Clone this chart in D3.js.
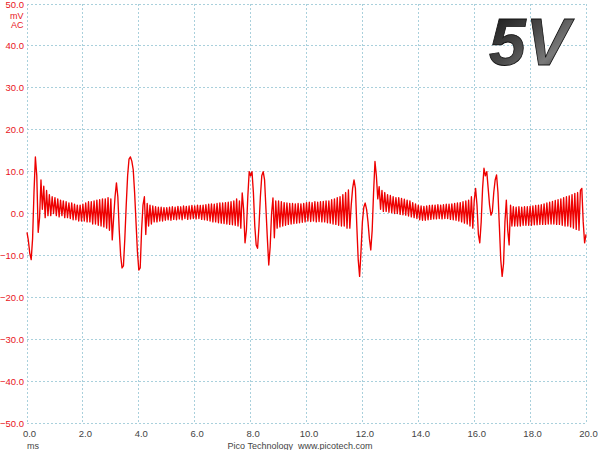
<!DOCTYPE html>
<html><head><meta charset="utf-8">
<script src="https://cdn.jsdelivr.net/npm/d3@7"></script>
<style>body{margin:0;background:#fff}svg{display:block}</style>
</head><body>
<svg id="c" width="600" height="450"></svg>
<script>
// ---- data ----
const sampleStepMs = 0.05;
const traceMv = [
// 0 ms
-4.5,-6.5,-9.5,-11,-6,5,13.5,9,-4.5,-1,8,1,6.5,-1,5.5,-0.5,4.5,-0.5,4,0,
// 1 ms
3.8,-0.5,3.5,-0.8,3.2,-0.5,3,-1,2.8,-1,2.5,-1.2,2.5,-1.5,2.2,-1.5,2,-1.8,2,-1.8,
// 2 ms
2.2,-1.8,2.5,-2,2.8,-2,2.8,-2.5,3,-2.5,3.2,-2.8,3.3,-3,3.5,-3.2,3.5,-3.5,3.8,-4,
// 3 ms
3.5,-6.3,-1,4,7.3,4,-4,-10,-13,-12.5,-6,2,9,13,13.5,12.5,10.5,5,-2,-9,
// 4 ms
-13.5,-13,-4,2,4,-5,2.4,-3,2,-2.5,1.8,-2,1.6,-2,1.5,-1.8,1.5,-1.8,1.4,-1.6,
// 5 ms
1.4,-1.5,1.5,-1.6,1.6,-1.4,1.5,-1.5,1.7,-1.3,1.6,-1.5,1.8,-1.2,1.7,-1.4,1.8,-1.3,1.9,-1.2,
// 6 ms
1.8,-1.3,2,-1.2,1.9,-1.4,2,-1.5,2.1,-1.6,2.2,-1.8,2.3,-2,2.2,-2,2.4,-2.2,2.5,-2.3,
// 7 ms
2.5,-2.4,2.6,-2.5,2.7,-2.6,2.8,-2.7,3,-2.8,3.5,-3,3,-3.5,4.9,1,-7,-4,4,10,
// 8 ms
9,10,5,-3,-7.5,-8.3,-3,4,9,10,8,1,-6,-12.3,-8,0,3.7,-5.8,3,-3.5,
// 9 ms
3,-3.2,2.8,-3,2.6,-2.8,2.5,-2.6,2.4,-2.5,2.4,-2.4,2.3,-2.3,2.4,-2.2,2.3,-2.1,2.4,-2,
// 10 ms
2.6,-1.8,2.7,-1.9,2.6,-1.8,2.8,-2,2.7,-1.9,2.8,-2,2.9,-2,3,-2.2,3,-2.3,3.3,-2.5,
// 11 ms
3.5,-2.6,3.8,-2.8,4,-3,4.5,-3,5,-3.5,5.6,-3.5,2,6,8,6,-3,-11,-15,-9,
// 12 ms
-2,1.5,2.5,1,-2,-6,-8.7,-4,5,12.4,9,3.5,6.4,1,5.5,0.5,5,0.5,4.5,0.3,
// 13 ms
4.3,0.2,4,0,3.8,0,3.8,-0.2,3.6,-0.3,3.4,-0.4,3.2,-0.6,3,-0.8,2.6,-1,2.3,-1.2,
// 14 ms
2,-1.5,1.8,-1.6,1.7,-1.6,1.8,-1.5,1.9,-1.4,2,-1.3,2,-1.3,2.1,-1.2,2,-1.3,2.1,-1.2,
// 15 ms
2.2,-1.2,2.2,-1.4,2.3,-1.5,2.4,-1.6,2.5,-1.8,2.6,-2,2.8,-2.3,3,-2.5,3.2,-3,4,-3.5,
// 16 ms
3,6,2,-5,-7,-2,6,10.8,9,10,6,2,-0.4,0.5,5,8,9.2,5,-3,-11,
// 17 ms
-15,-12,-2,3.2,-4,-7.5,2,-3,1.6,-3,1.5,-3,1.6,-3,1.5,-2.8,1.6,-2.8,1.6,-2.8,
// 18 ms
1.7,-2.8,1.8,-2.7,1.9,-2.7,2,-2.6,2.1,-2.6,2.3,-2.6,2.5,-2.5,2.7,-2.5,2.9,-2.5,3.1,-2.6,
// 19 ms
3.3,-2.6,3.5,-2.8,3.8,-3,4,-3,4.2,-3.2,4.5,-3.5,4.8,-3.8,5,-4,5.5,6,-2,-7,
// 20 ms
-5
];
const xTickValues = [0,2,4,6,8,10,12,14,16,18,20];
const yTickValues = [-50,-40,-30,-20,-10,0,10,20,30,40,50];
const xUnitLabel = "ms";
const yUnitLabels = ["mV","AC"];
const rangeLabel = "5V";
const footerLabel = "Pico Technology  www.picotech.com";

// ---- drawing ----
const svg = d3.select("#c");
const x = d3.scaleLinear().domain([0,20]).range([27,586]);
const y = d3.scaleLinear().domain([-50,50]).range([423,4]);
const font = "'Liberation Sans', Arial, sans-serif";
const gridColor = "#a9d0dc";

// grid
const g = svg.append("g");
g.selectAll("line.v").data(xTickValues).join("line")
  .attr("x1", d=>x(d)).attr("x2", d=>x(d)).attr("y1", y(50)).attr("y2", y(-50))
  .attr("stroke", gridColor).attr("stroke-width",1).attr("stroke-dasharray","2,2")
  .attr("shape-rendering","crispEdges");
g.selectAll("line.h").data(yTickValues).join("line")
  .attr("y1", d=>y(d)).attr("y2", d=>y(d)).attr("x1", x(0)).attr("x2", x(20))
  .attr("stroke", gridColor).attr("stroke-width",1).attr("stroke-dasharray","2,2")
  .attr("shape-rendering","crispEdges");

// y axis labels
const ya = svg.append("g").attr("transform",`translate(${x(0)},0)`)
  .call(d3.axisLeft(y).tickValues(yTickValues).tickFormat(d3.format(".1f")).tickSize(0).tickPadding(3));
ya.select(".domain").remove();
ya.selectAll("text").attr("fill","#e8141c").style("font-family",font).style("font-size","9.5px");
svg.selectAll("text.yu").data(yUnitLabels).join("text")
  .attr("x",23.5).attr("y",(d,i)=>18.5+i*9).attr("text-anchor","end")
  .attr("fill","#e8141c").style("font-family",font).style("font-size","9px").text(d=>d);

// x axis labels
const xa = svg.append("g").attr("transform",`translate(0,${y(-50)})`)
  .call(d3.axisBottom(x).tickValues(xTickValues).tickFormat(d3.format(".1f")).tickSize(0).tickPadding(7));
xa.select(".domain").remove();
xa.selectAll("text").attr("fill","#444").style("font-family",font).style("font-size","9.5px")
  .attr("dx","2");
svg.append("text").attr("x",27).attr("y",449).attr("fill","#444")
  .style("font-family",font).style("font-size","9px").text(xUnitLabel);
svg.append("text").attr("x",300).attr("y",449).attr("text-anchor","middle").attr("fill","#444")
  .style("font-family",font).style("font-size","9px").attr("xml:space","preserve")
  .style("white-space","pre").text(footerLabel);

// trace
const line = d3.line().x((d,i)=>x(i*sampleStepMs)).y(d=>y(d));
svg.append("path").datum(traceMv).attr("d",line)
  .attr("fill","none").attr("stroke","#ee0000").attr("stroke-width",1.35)
  .attr("stroke-linejoin","round");

// range label
const defs = svg.append("defs");
const grad = defs.append("linearGradient").attr("id","gv")
  .attr("x1","0").attr("y1","0").attr("x2","1").attr("y2","1");
grad.append("stop").attr("offset","0").attr("stop-color","#111");
grad.append("stop").attr("offset","0.45").attr("stop-color","#4a4a4a");
grad.append("stop").attr("offset","0.7").attr("stop-color","#7a7a7a");
grad.append("stop").attr("offset","1").attr("stop-color","#1a1a1a");
svg.append("text").attr("x",489).attr("y",65)
  .style("font-family",font).style("font-size","66px").style("font-weight","bold").style("font-style","italic")
  .attr("fill","url(#gv)").attr("stroke","#111").attr("stroke-width",0.8).text(rangeLabel);
</script>
</body></html>
